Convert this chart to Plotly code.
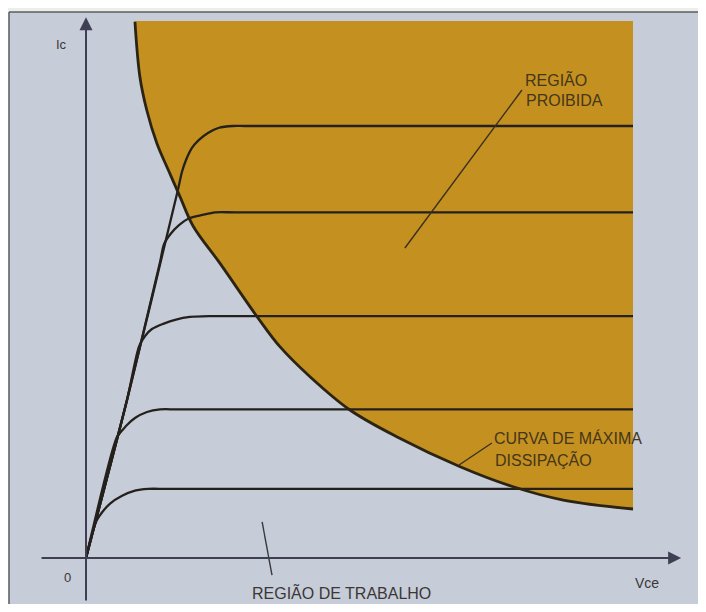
import plotly.graph_objects as go

# ---- data (Vce in V, Ic in mA, arbitrary scale) ----
vce_end = 20.0

# collector characteristic curves (one per base current)
curve1_vce = [0, 1.50, 3.36, 3.51, 3.66, 3.88, 4.13, 4.46, 4.86, 5.38, 5.81, 20.0]
curve1_ic = [0, 18.3, 42.6, 44.7, 46.1, 47.5, 48.4, 49.2, 49.8, 50.0, 50.0, 50.0]

curve2_vce = [0, 1.50, 2.71, 2.85, 3.09, 3.39, 3.76, 4.26, 4.72, 5.5, 20.0]
curve2_ic = [0, 18.3, 34.3, 36.3, 37.5, 38.5, 39.3, 39.7, 40.0, 40.0, 40.0]

curve3_vce = [0, 1.50, 1.94, 2.16, 2.41, 2.82, 3.29, 3.80, 4.5, 20.0]
curve3_ic = [0, 18.3, 24.5, 25.7, 26.5, 27.1, 27.6, 27.9, 28.0, 28.0]

curve4_vce = [0, 1.13, 1.28, 1.50, 1.79, 2.23, 2.71, 3.4, 20.0]
curve4_ic = [0, 14.0, 14.6, 15.4, 16.2, 16.9, 17.2, 17.2, 17.2]

curve5_vce = [0, 0.26, 0.40, 0.59, 0.88, 1.32, 1.79, 2.27, 3.0, 20.0]
curve5_ic = [0, 3.2, 4.4, 5.3, 6.3, 7.2, 7.8, 8.0, 8.0, 8.0]

# maximum dissipation curve
hyp_vce = [1.79, 1.97, 2.22, 2.59, 3.01, 3.44, 3.92, 4.90, 6.30, 7.09, 8.19,
           9.65, 11.36, 13.68, 15.62, 17.45, 20.0]
hyp_ic = [62.07, 55.7, 51.85, 48.0, 44.9, 41.8, 38.4, 34.1, 27.74, 24.46, 20.98,
          17.13, 14.04, 10.57, 8.25, 6.71, 5.67]
forbidden_top = 62.15

# labels
lbl_forbidden = ["REGIÃO", "PROIBIDA"]
lbl_curve = ["CURVA DE MÁXIMA", "DISSIPAÇÃO"]
lbl_work = "REGIÃO DE TRABALHO"
lbl_x = "Vce"
lbl_y = "Ic"
lbl_origin = "0"

# ---- style ----
ORANGE = "#c4901f"
BG = "#c6ccd8"
PAPER = "#ededea"
INK = "#24211d"
AXIS = "#3e3f52"
TXT = "#3a3836"
TXT_ON_ORANGE = "#45361b"
FRAME = "#5a5c62"

fig = go.Figure()

# forbidden region (above the max dissipation curve)
fig.add_trace(go.Scatter(
    x=hyp_vce + [vce_end, hyp_vce[0]],
    y=hyp_ic + [forbidden_top, forbidden_top],
    mode="lines", fill="toself", fillcolor=ORANGE,
    line=dict(width=0, color=ORANGE), hoverinfo="skip", showlegend=False))

for xs, ys in [(curve1_vce, curve1_ic), (curve2_vce, curve2_ic),
               (curve3_vce, curve3_ic), (curve4_vce, curve4_ic),
               (curve5_vce, curve5_ic)]:
    fig.add_trace(go.Scatter(x=xs, y=ys, mode="lines",
                             line=dict(color=INK, width=2.3, shape="spline", smoothing=0.8),
                             hoverinfo="skip", showlegend=False))

fig.add_trace(go.Scatter(x=hyp_vce, y=hyp_ic, mode="lines",
                         line=dict(color="#2c2413", width=2.8, shape="spline", smoothing=1.0),
                         hoverinfo="skip", showlegend=False))

# axis arrows
ann = []
ann.append(dict(x=21.76, y=0, ax=-1.68, ay=0, xref="x", yref="y", axref="x", ayref="y",
                text="", showarrow=True, arrowhead=2, arrowsize=1.3, arrowwidth=2,
                arrowcolor=AXIS, standoff=0))
ann.append(dict(x=0, y=62.6, ax=0, ay=-5.1, xref="x", yref="y", axref="x", ayref="y",
                text="", showarrow=True, arrowhead=2, arrowsize=1.3, arrowwidth=2,
                arrowcolor=AXIS, standoff=0))

FONT = "Liberation Sans, Arial, sans-serif"


def label(x, y, t, size=16, color=TXT, xanchor="left"):
    ann.append(dict(x=x, y=y, xref="x", yref="y", text=t, showarrow=False,
                    xanchor=xanchor, yanchor="middle",
                    font=dict(family=FONT, size=size, color=color)))


label(15.98, 55.4, lbl_forbidden[0], color=TXT_ON_ORANGE)
label(16.02, 53.0, lbl_forbidden[1], color=TXT_ON_ORANGE)
label(14.84, 13.9, lbl_curve[0], color=TXT_ON_ORANGE)
label(14.88, 11.35, lbl_curve[1], color=TXT_ON_ORANGE)
label(6.0, -4.05, lbl_work)
label(20.51, -2.89, lbl_x, size=14, xanchor="center")
label(-0.88, 59.4, lbl_y, size=13, xanchor="center")
label(-0.66, -2.31, lbl_origin, size=13, xanchor="center")

# page body has an 8px margin: figure occupies screen 8..698 x 8..604 (no overflow)
FW, FH = 690, 596
top_y = 1 - 4 / FH
shapes = [
    # inner frame background
    dict(type="rect", xref="paper", yref="paper", x0=1 / FW, x1=1.0,
         y0=0, y1=top_y, fillcolor=BG, line=dict(width=0), layer="below"),
    # frame left and top edges
    dict(type="line", xref="paper", yref="paper", x0=1 / FW, x1=1 / FW, y0=0, y1=top_y,
         line=dict(color=FRAME, width=1.5), layer="below"),
    dict(type="line", xref="paper", yref="paper", x0=1 / FW, x1=1.0, y0=top_y, y1=top_y,
         line=dict(color=FRAME, width=1.5), layer="below"),
    # leader lines
    dict(type="line", xref="x", yref="y", x0=15.94, y0=54.17, x1=11.66, y1=35.88,
         line=dict(color="#3a3020", width=1.4)),
    dict(type="line", xref="x", yref="y", x0=14.84, y0=13.31, x1=13.64, y1=10.76,
         line=dict(color="#3a3020", width=1.4)),
    dict(type="line", xref="x", yref="y", x0=6.44, y0=4.17, x1=6.80, y1=-1.97,
         line=dict(color="#3a3a3e", width=1.4)),
]

fig.update_layout(
    width=FW, height=FH,
    margin=dict(l=0, r=0, t=0, b=0),
    paper_bgcolor=PAPER, plot_bgcolor="rgba(0,0,0,0)",
    xaxis=dict(range=[(8 - 86) / 27.35, (8 + FW - 86) / 27.35], visible=False, fixedrange=True),
    yaxis=dict(range=[(558 - 8 - FH) / 8.64, (558 - 8) / 8.64], visible=False, fixedrange=True),
    annotations=ann, shapes=shapes, showlegend=False,
)

fig.write_html("out.html")
